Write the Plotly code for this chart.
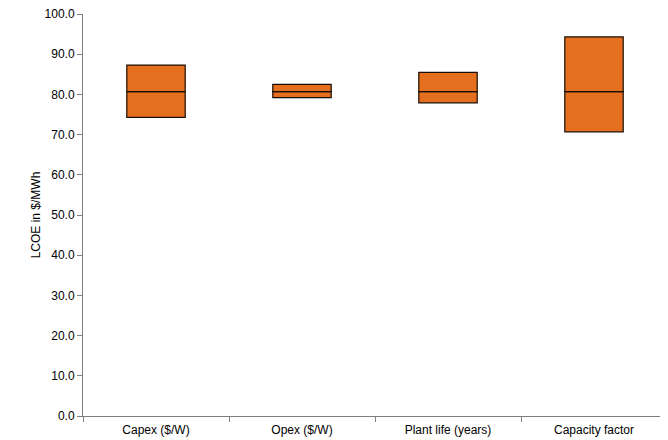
import plotly.graph_objects as go

categories = ["Capex ($/W)", "Opex ($/W)", "Plant life (years)", "Capacity factor"]
low = [74.3, 79.2, 77.9, 70.7]
high = [87.3, 82.5, 85.5, 94.3]
base_lcoe = 80.7
y_ticks = [0, 10, 20, 30, 40, 50, 60, 70, 80, 90, 100]

orange = "#E46F1F"
edge = "#1a0d00"

fig = go.Figure()
fig.add_trace(go.Bar(
    x=categories, base=low, y=[base_lcoe - l for l in low],
    width=0.4, marker=dict(color=orange, line=dict(color=edge, width=1.2)),
    hoverinfo="skip", showlegend=False))
fig.add_trace(go.Bar(
    x=categories, base=[base_lcoe] * 4, y=[h - base_lcoe for h in high],
    width=0.4, marker=dict(color=orange, line=dict(color=edge, width=1.2)),
    hoverinfo="skip", showlegend=False))

fig.update_layout(
    width=660, height=432, barmode="overlay",
    margin=dict(l=75, r=1, t=6, b=24),
    paper_bgcolor="white", plot_bgcolor="white",
    font=dict(family="Liberation Sans, Arial, sans-serif", size=12, color="#000000"),
    xaxis=dict(type="category", showline=True, linecolor="#808080", linewidth=1,
               ticks="outside", tickson="boundaries", ticklen=5, tickcolor="#808080",
               ticklabelstandoff=3,
               showgrid=False, zeroline=False, tickfont=dict(size=12), automargin=False),
    yaxis=dict(range=[0, 100], tickvals=y_ticks, tickformat=".1f",
               showline=True, linecolor="#808080", linewidth=1,
               ticks="outside", ticklen=5, tickcolor="#808080",
               ticklabeloverflow="allow",
               showgrid=False, zeroline=False, tickfont=dict(size=12), automargin=False,
               title=dict(text="LCOE in $/MWh", font=dict(size=12), standoff=1)),
)
fig.write_html("out.html")
